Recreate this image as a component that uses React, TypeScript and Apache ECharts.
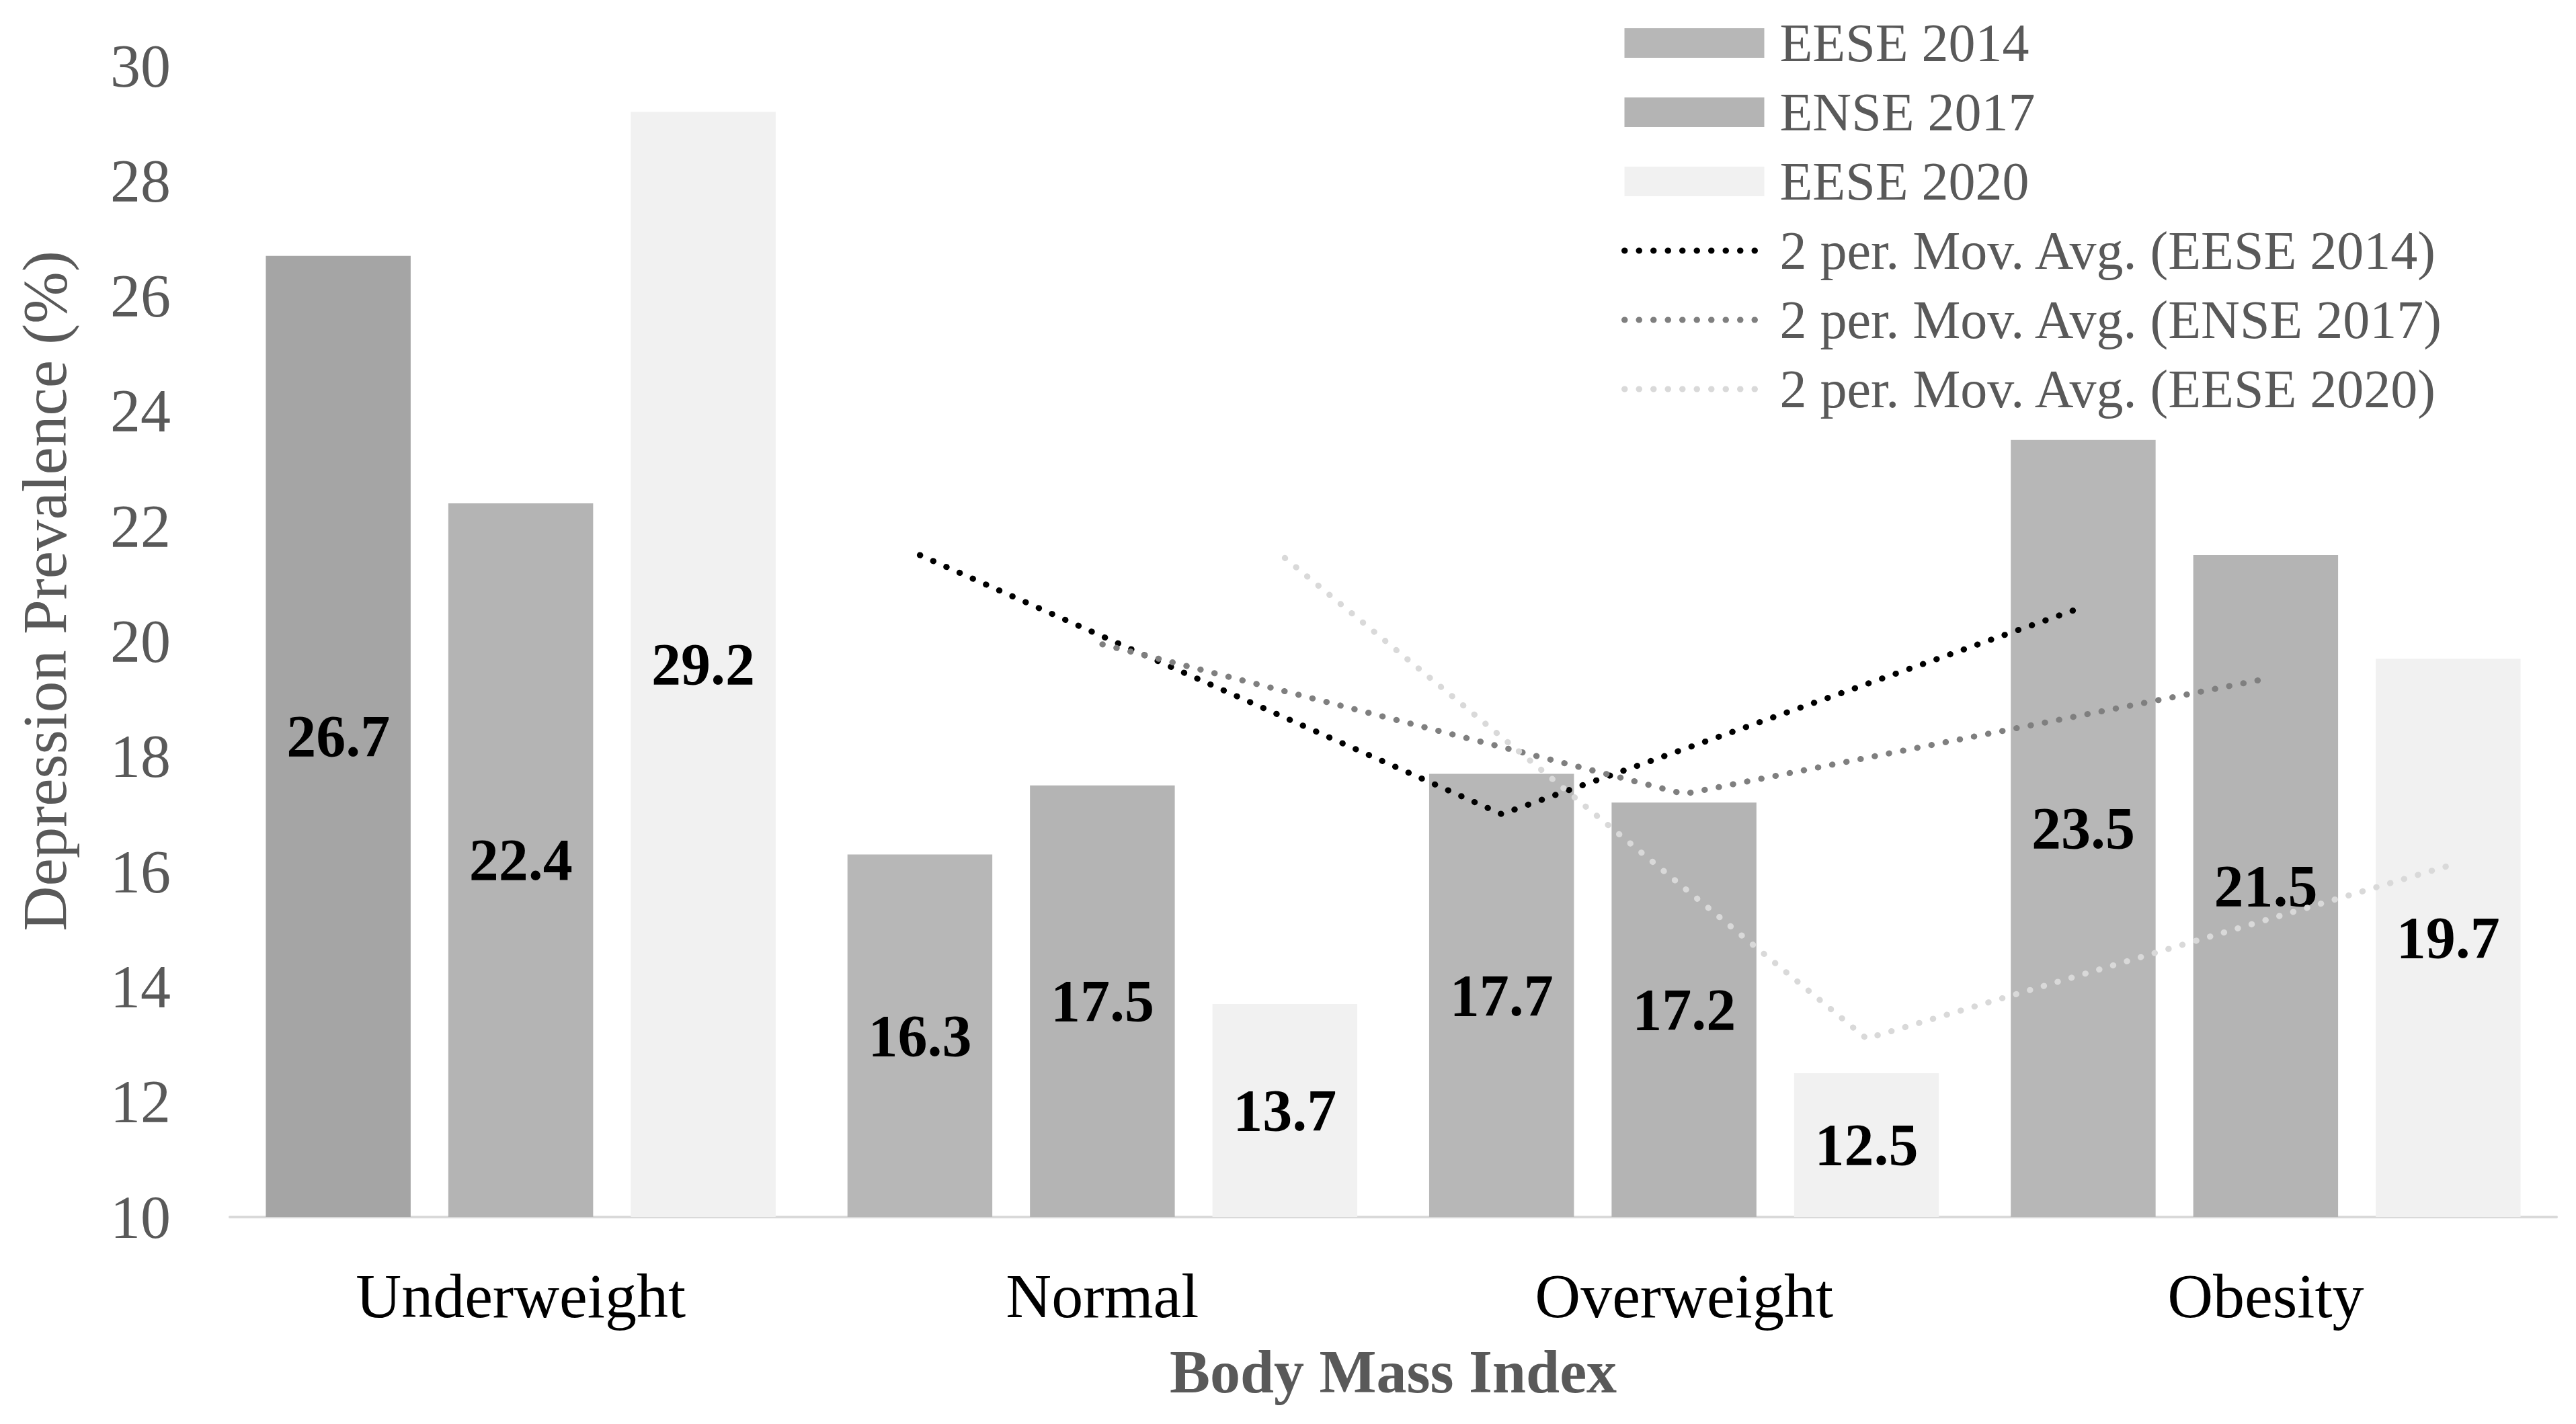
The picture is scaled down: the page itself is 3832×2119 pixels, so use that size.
import React, { useEffect, useRef } from "react";
import * as echarts from "echarts";

const categories = ["Underweight", "Normal", "Overweight", "Obesity"];
const seriesNames = ["EESE 2014", "ENSE 2017", "EESE 2020"];
const eese2014 = [26.7, 16.3, 17.7, 23.5];
const ense2017 = [22.4, 17.5, 17.2, 21.5];
const eese2020 = [29.2, 13.7, 12.5, 19.7];
const mavgNames = [
  "2 per. Mov. Avg. (EESE 2014)",
  "2 per. Mov. Avg. (ENSE 2017)",
  "2 per. Mov. Avg. (EESE 2020)",
];
// moving-average points, at categories Normal, Overweight, Obesity
const mavgCats = [1, 2, 3];
const mavg2014 = [21.5, 17.0, 20.6];
const mavg2017 = [19.95, 17.35, 19.35];
const mavg2020 = [21.45, 13.1, 16.1];
const yMin = 10;
const yMax = 30;
const yInterval = 2;

const FONT = "'Liberation Serif', 'Times New Roman', serif";
const BAR_W = 0.249;
const BAR_GAP = 0.26;
const OFFSET = BAR_W * (1 + BAR_GAP);
const lineColors = ["#000000", "#7f7f7f", "#d9d9d9"];

export default function App() {
  const ref = useRef<HTMLDivElement>(null);
  useEffect(() => {
    document.body.style.margin = "0";
    const chart = echarts.init(ref.current!, undefined, { renderer: "svg" });
    const barLabel = {
      show: true,
      position: "inside",
      color: "#000",
      fontFamily: FONT,
      fontWeight: "bold",
      fontSize: 88,
      formatter: (p: any) => Number(p.value).toFixed(1),
    };
    const dotted = (color: string) => ({ color, width: 9, type: [0.5, 21], cap: "round" });
    const mkLine = (name: string, vals: number[], dir: number, color: string) => ({
      name,
      type: "line",
      xAxisIndex: 1,
      yAxisIndex: 0,
      symbol: "none",
      z: 5,
      lineStyle: dotted(color),
      itemStyle: { color },
      data: vals.map((v, i) => [mavgCats[i] + dir * OFFSET, v]),
    });
    chart.setOption({
      animation: false,
      backgroundColor: "#fff",
      grid: { left: 342, right: 29, top: 98, bottom: 308, containLabel: false },
      legend: {
        orient: "vertical",
        left: 2407,
        top: 19,
        itemWidth: 208,
        itemHeight: 44,
        itemGap: 23,
        textStyle: { color: "#595959", fontFamily: FONT, fontSize: 80, padding: [0, 0, 0, 18] },
        data: [
          { name: seriesNames[0], icon: "rect" },
          { name: seriesNames[1], icon: "rect" },
          { name: seriesNames[2], icon: "rect" },
          ...mavgNames.map((n, i) => ({
            name: n,
            itemStyle: { opacity: 0 },
            lineStyle: dotted(lineColors[i]),
          })),
        ],
      },
      xAxis: [
        {
          type: "category",
          data: categories,
          name: "Body Mass Index",
          nameLocation: "middle",
          nameGap: 185,
          nameTextStyle: { color: "#595959", fontFamily: FONT, fontSize: 90, fontWeight: "bold" },
          axisLine: { show: true, lineStyle: { color: "#d9d9d9", width: 4 } },
          axisTick: { show: false },
          axisLabel: { color: "#000", fontFamily: FONT, fontSize: 94, margin: 70 },
        },
        { type: "value", min: -0.5, max: 3.5, show: false },
      ],
      yAxis: {
        type: "value",
        min: yMin,
        max: yMax,
        interval: yInterval,
        name: "Depression Prevalence (%)",
        nameLocation: "middle",
        nameGap: 229,
        nameTextStyle: { color: "#595959", fontFamily: FONT, fontSize: 93, padding: [0, 0, 0, 150] },
        axisLine: { show: false },
        axisTick: { show: false },
        splitLine: { show: false },
        axisLabel: { color: "#595959", fontFamily: FONT, fontSize: 90, margin: 88 },
      },
      series: [
        {
          name: seriesNames[0],
          type: "bar",
          barWidth: `${BAR_W * 100}%`,
          barGap: `${BAR_GAP * 100}%`,
          itemStyle: { color: "#b7b7b7" },
          label: barLabel,
          data: eese2014.map((v, i) => (i === 0 ? { value: v, itemStyle: { color: "#a5a5a5" } } : v)),
        },
        {
          name: seriesNames[1],
          type: "bar",
          barWidth: `${BAR_W * 100}%`,
          barGap: `${BAR_GAP * 100}%`,
          itemStyle: { color: "#b4b4b4" },
          label: barLabel,
          data: ense2017,
        },
        {
          name: seriesNames[2],
          type: "bar",
          barWidth: `${BAR_W * 100}%`,
          barGap: `${BAR_GAP * 100}%`,
          itemStyle: { color: "#f1f1f1" },
          label: barLabel,
          data: eese2020,
        },
        mkLine(mavgNames[0], mavg2014, -1, lineColors[0]),
        mkLine(mavgNames[1], mavg2017, 0, lineColors[1]),
        mkLine(mavgNames[2], mavg2020, 1, lineColors[2]),
      ],
    });
    return () => chart.dispose();
  }, []);
  return <div ref={ref} style={{ width: 3832, height: 2119 }} />;
}
